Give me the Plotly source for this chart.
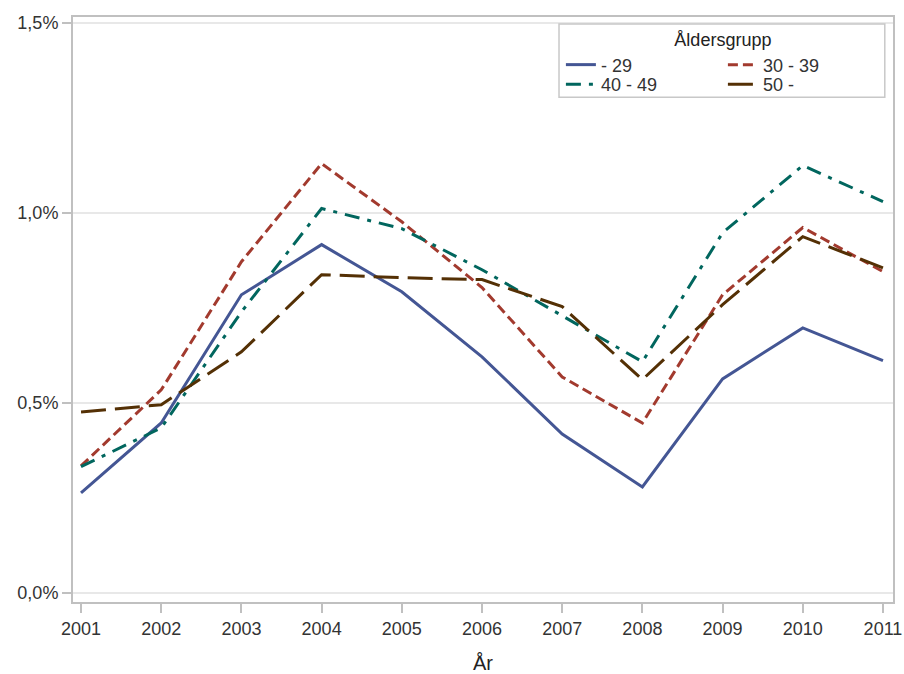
import plotly.graph_objects as go

years = [2001, 2002, 2003, 2004, 2005, 2006, 2007, 2008, 2009, 2010, 2011]
s_29 = [0.263, 0.447, 0.784, 0.916, 0.792, 0.621, 0.418, 0.279, 0.563, 0.697, 0.611]
s_30_39 = [0.334, 0.534, 0.871, 1.129, 0.976, 0.803, 0.568, 0.447, 0.784, 0.961, 0.845]
s_40_49 = [0.332, 0.434, 0.739, 1.011, 0.958, 0.850, 0.729, 0.608, 0.947, 1.124, 1.029]
s_50 = [0.476, 0.495, 0.634, 0.837, 0.829, 0.824, 0.753, 0.561, 0.758, 0.937, 0.855]
names = ["- 29", "30 - 39", "40 - 49", "50 -"]
y_ticks = [0.0, 0.5, 1.0, 1.5]
y_tick_labels = ["0,0%", "0,5%", "1,0%", "1,5%"]

series = [s_29, s_30_39, s_40_49, s_50]
colors = ["#445694", "#A23A2E", "#01665E", "#543005"]
dashes = ["solid", "10px,5px", "15px,8px,4px,8px", "25px,9px"]
legends = ["legend", "legend", "legend2", "legend2"]

fig = go.Figure()
for name, vals, c, d, lg in zip(names, series, colors, dashes, legends):
    fig.add_trace(go.Scatter(
        x=years, y=vals, mode="lines", name=name,
        line=dict(color=c, width=3, dash=d),
        legend=lg,
    ))

font = "Liberation Sans, Arial, sans-serif"
axis_common = dict(
    showline=True, linecolor="#c0c0c0", linewidth=2, mirror=True,
    ticks="outside", ticklen=9, tickcolor="#c0c0c0", tickwidth=1.5,
    tickfont=dict(family=font, size=18, color="#333333"),
    zeroline=False, automargin=False, ticklabeloverflow="allow",
)

fig.update_layout(
    width=904, height=674,
    margin=dict(l=73, r=11, t=17, b=72),
    paper_bgcolor="white", plot_bgcolor="white",
    font=dict(family=font, color="#333333"),
    xaxis=dict(
        range=[2000.90, 2011.125], tickmode="array", tickvals=years,
        showgrid=False,
        title=dict(text="År", font=dict(family=font, size=20, color="#222222"), standoff=21),
        **axis_common,
    ),
    yaxis=dict(
        range=[-0.0237, 1.5145], tickmode="array", tickvals=y_ticks,
        ticktext=y_tick_labels,
        showgrid=True, gridcolor="#e8e8e8", gridwidth=1.5,
        **axis_common,
    ),
    legend=dict(
        orientation="h", x=0.595, y=0.9897, xanchor="left", yanchor="top",
        title=dict(text="Åldersgrupp", side="top center", font=dict(family=font, size=18, color="#222222")),
        font=dict(family=font, size=18, color="#333333"),
        entrywidth=117, bgcolor="rgba(0,0,0,0)", borderwidth=0,
        tracegroupgap=0,
    ),
    legend2=dict(
        orientation="h", x=0.595, y=0.916, xanchor="left", yanchor="top",
        font=dict(family=font, size=18, color="#333333"),
        entrywidth=117, bgcolor="rgba(0,0,0,0)", borderwidth=0,
        tracegroupgap=0,
    ),
    shapes=[dict(
        type="rect", xref="paper", yref="paper",
        x0=0.5927, x1=0.990, y0=0.863, y1=0.988,
        line=dict(color="#c8c8c8", width=1.5), fillcolor="rgba(0,0,0,0)",
    )],
)

fig.write_html("out.html", config={"displayModeBar": False},
               post_script="document.body.style.margin='0';")
